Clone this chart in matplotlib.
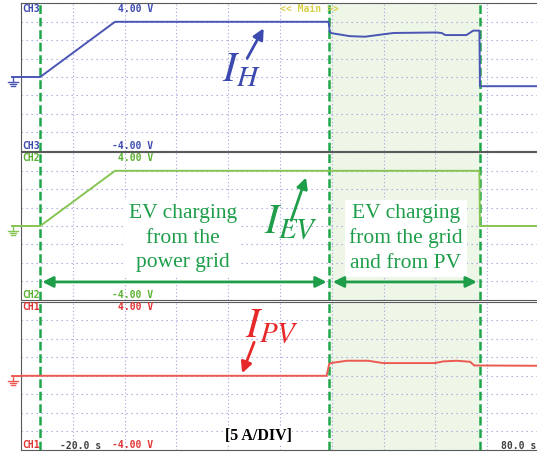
import matplotlib
matplotlib.use('Agg')
import matplotlib.pyplot as plt

#############################################################

plt.rcParams['mathtext.fontset'] = 'stix'

# time base: 10 s/div, screen from -20 s to 80 s ; vertical scale 5 A/div
t_start, t_end = -20.0, 80.0
amp_range = 20.0

# green event markers (s)
t_events = [-16.3, 39.5, 68.55]

# CH3 : grid current I_H (A)
t_h = [-20.0, -16.3, -1.85, 39.4, 39.6, 40.0, 43.5, 46.4, 49.9, 51.9, 60.2, 61.2, 61.9, 66.0, 67.3, 68.5, 68.6, 80.0]
i_h = [0.0, 0.0, 15.0, 15.0, 12.3, 11.9, 11.1, 10.95, 11.6, 11.96, 12.1, 11.96, 11.4, 11.4, 12.6, 12.6, -2.5, -2.5]

# CH2 : EV current I_EV (A)
t_ev = [-20.0, -16.3, -1.85, 68.5, 68.6, 80.0]
i_ev = [0.0, 0.0, 15.0, 15.0, 0.0, 0.0]

# CH1 : PV current I_PV (A)
t_pv = [-20.0, 39.0, 39.5, 40.0, 42.9, 47.0, 49.9, 59.9, 61.5, 64.1, 66.7, 67.5, 80.0]
i_pv = [0.0, 0.0, 3.26, 3.5, 4.08, 4.08, 3.45, 3.45, 3.9, 4.08, 3.8, 2.8, 2.72]

#############################################################

grid_col = '#a4a4dc'
green_dash = '#1fa64a'
label_green = '#1f9e4a'

channels = [
    ('CH3', t_h, i_h, '#4a56b4', '#3c4ab0'),
    ('CH2', t_ev, i_ev, '#86c454', '#5ab030'),
    ('CH1', t_pv, i_pv, '#ec5a52', '#e03434'),
]

fig = plt.figure(figsize=(5.37, 4.55), dpi=100)
W, H = 537.0, 455.0
left_px, right_px = 21.0, 539.0
panels_px = [(3.4, 150.6), (152.4, 299.6), (302.0, 449.6)]

axes = []
for (name, t, i, col, lab_col), (top, bot) in zip(channels, panels_px):
    ax = fig.add_axes([left_px / W, 1 - bot / H, (right_px - left_px) / W, (bot - top) / H])
    axes.append(ax)
    ax.set_xlim(t_start, t_end)
    ax.set_ylim(-amp_range, amp_range)
    ax.set_xticks(range(-20, 81, 10))
    ax.set_yticks(range(-20, 21, 5))
    ax.tick_params(length=0, labelbottom=False, labelleft=False)
    ax.set_axisbelow(True)
    ax.xaxis.grid(True, color=grid_col, lw=0.8, linestyle=(0, (1, 2.2)))
    ax.yaxis.grid(True, color=grid_col, lw=0.8, linestyle=(0, (1.2, 3.3)))
    for s in ax.spines.values():
        s.set_color('#5a5a5a')
        s.set_linewidth(0.8)

    ax.axvspan(t_events[1], t_events[2], color='#eef6e8', zorder=0.2, lw=0)
    for te in t_events:
        ax.axvline(te, color=green_dash, lw=1.8, linestyle=(0, (3.5, 1.5)), zorder=3)

    ax.plot(t, i, color=col, lw=1.4, zorder=4)

    # ground reference marker
    tr = ax.transAxes
    ax.plot([-0.018, 0.0], [0.5, 0.5], color=col, lw=1.4, transform=tr, clip_on=False)
    ax.plot([-0.0155, -0.0155], [0.5, 0.465], color=col, lw=1.0, transform=tr, clip_on=False)
    for k, w in enumerate([0.009, 0.006, 0.003]):
        yy = 0.465 - k * 0.012
        ax.plot([-0.0155 - w, -0.0155 + w], [yy, yy], color=col, lw=1.0, transform=tr, clip_on=False)

    # channel labels
    ax.text(0.002, 0.965, name, transform=tr, color=lab_col, fontsize=7, fontweight='bold',
            family='DejaVu Sans Mono', ha='left', va='center')
    ax.text(0.002, 0.03, name, transform=tr, color=lab_col, fontsize=7, fontweight='bold',
            family='DejaVu Sans Mono', ha='left', va='center')
    ax.text(0.255, 0.965, '4.00 V', transform=tr, color=lab_col, fontsize=7, fontweight='bold',
            family='DejaVu Sans Mono', ha='right', va='center')
    ax.text(0.255, 0.03, '-4.00 V', transform=tr, color=lab_col, fontsize=7, fontweight='bold',
            family='DejaVu Sans Mono', ha='right', va='center')

ax_h, ax_ev, ax_pv = axes

ax_h.text(0.5, 0.965, '<< Main >>', transform=ax_h.transAxes, color='#d8d04c', fontsize=7,
          fontweight='bold', family='DejaVu Sans Mono', ha='left', va='center')

# time labels
ax_pv.text(0.075, 0.025, '-20.0 s', transform=ax_pv.transAxes, color='#404040', fontsize=7,
           fontweight='bold', family='DejaVu Sans Mono', ha='left', va='center')
ax_pv.text(0.995, 0.025, '80.0 s', transform=ax_pv.transAxes, color='#404040', fontsize=7,
           fontweight='bold', family='DejaVu Sans Mono', ha='right', va='center')
ax_pv.text(25.8, -16.2, '[5 A/DIV]', color='black', fontsize=11.5, fontweight='bold',
           family='Liberation Serif', ha='center', va='center', zorder=6,
           bbox=dict(facecolor='white', edgecolor='none', pad=0.5))

# current labels
ax_h.annotate('', xy=(27.1, 13.9), xytext=(23.4, 4.4),
              arrowprops=dict(arrowstyle='-|>', color='#3c4ab0', lw=2, mutation_scale=16), zorder=6)
ax_h.text(22.5, 2.0, r'$I_{H}$', color='#3c4ab0', fontsize=30, ha='center', va='center', zorder=6)

ax_ev.annotate('', xy=(35.2, 13.9), xytext=(32.0, 0.8),
               arrowprops=dict(arrowstyle='-|>', color=label_green, lw=2, mutation_scale=16), zorder=6)
ax_ev.text(32.2, 1.0, r'$I_{EV}$', color=label_green, fontsize=30, ha='center', va='center', zorder=6)

ax_pv.annotate('', xy=(22.5, 0.0), xytext=(25.2, 9.8),
               arrowprops=dict(arrowstyle='-|>', color='#e82828', lw=2, mutation_scale=16), zorder=6)
ax_pv.text(28.5, 13.5, r'$I_{PV}$', color='#e82828', fontsize=30, ha='center', va='center', zorder=6)

# phase descriptions
ax_ev.text(11.3, -3.3, 'EV charging\nfrom the\npower grid', color=label_green, fontsize=15.5,
           family='Liberation Serif', ha='center', va='center', linespacing=1.38, zorder=6,
           bbox=dict(facecolor='white', edgecolor='none', pad=3))
ax_ev.text(54.3, -3.3, 'EV charging\nfrom the grid\nand from PV', color=label_green, fontsize=15.5,
           family='Liberation Serif', ha='center', va='center', linespacing=1.38, zorder=6,
           bbox=dict(facecolor='white', edgecolor='none', pad=3))

ax_ev.annotate('', xy=(-15.9, -15.2), xytext=(39.0, -15.2),
               arrowprops=dict(arrowstyle='<|-|>', color=label_green, lw=2, mutation_scale=16,
                               shrinkA=0, shrinkB=0), zorder=6)
ax_ev.annotate('', xy=(40.2, -15.2), xytext=(68.0, -15.2),
               arrowprops=dict(arrowstyle='<|-|>', color=label_green, lw=2, mutation_scale=16,
                               shrinkA=0, shrinkB=0), zorder=6)

fig.savefig('out.png', dpi=100)
